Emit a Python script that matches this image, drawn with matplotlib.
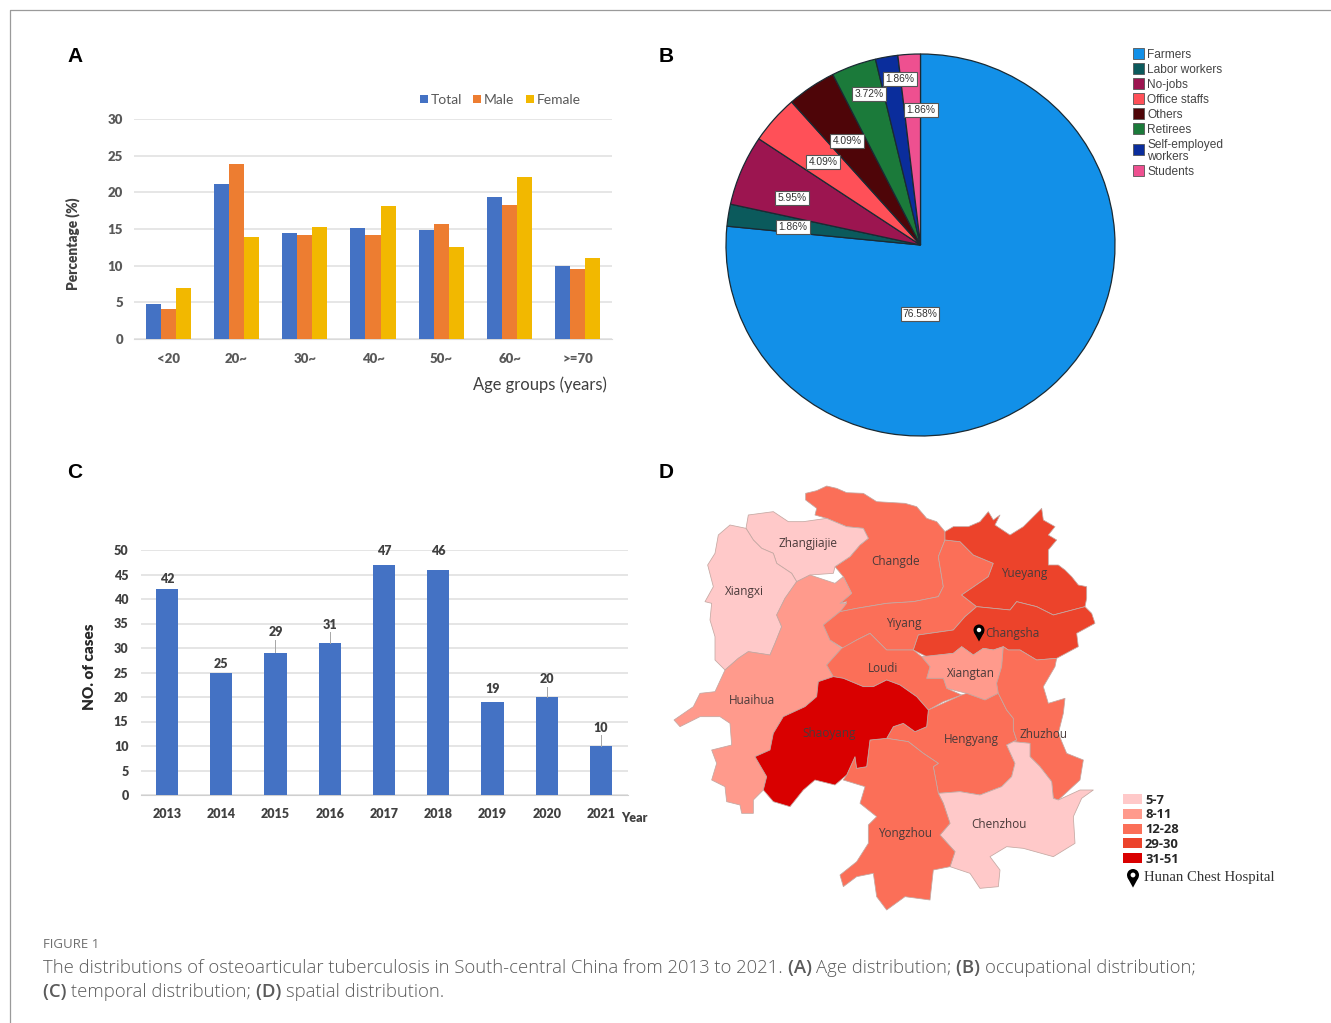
import matplotlib
matplotlib.use("Agg")
import matplotlib.pyplot as plt
from matplotlib.patches import Polygon, Rectangle, Circle

W, H = 1331, 1023

# panel A
age_groups = ["<20", "20~", "30~", "40~", "50~", "60~", ">=70"]
age_total = [4.8, 21.2, 14.5, 15.2, 14.9, 19.3, 10.0]
age_male = [4.1, 23.9, 14.2, 14.2, 15.7, 18.3, 9.6]
age_female = [6.9, 13.9, 15.3, 18.1, 12.5, 22.1, 11.1]

# panel B
jobs = ["Farmers", "Labor workers", "No-jobs", "Office staffs", "Others", "Retirees",
        "Self-employed\nworkers", "Students"]
job_share = [76.58, 1.86, 5.95, 4.09, 4.09, 3.72, 1.86, 1.86]
job_colors = ["#1290E8", "#0B5A5C", "#9C1550", "#FF5058", "#4E0508", "#1B7A3A", "#0A2D9C", "#EE5090"]

# panel C
years = ["2013", "2014", "2015", "2016", "2017", "2018", "2019", "2020", "2021"]
cases = [42, 25, 29, 31, 47, 46, 19, 20, 10]

# panel D, outlines (zoomed crop coords, 3x, origin at 660,470)
city_bins = ["5-7", "8-11", "12-28", "29-30", "31-51"]
bin_colors = ["#FFC9C9", "#FF9A8C", "#FB6F58", "#EC432B", "#D90000"]
changde = [(437,70),(470,62),(500,48),(530,55),(560,68),(610,70),(650,95),(700,98),(735,100),(770,110),(800,145),(830,155),(855,185),(855,210),(835,260),(850,350),(835,380),(760,395),(680,400),(590,415),(540,425),(560,395),(540,400),(575,370),(550,320),(525,290),(570,260),(600,225),(625,205),(610,175),(560,170),(500,145),(465,135),(470,115),(437,90)]
zhangjiajie = [(265,135),(340,125),(385,155),(430,155),(500,145),(560,170),(610,175),(625,205),(600,225),(570,260),(525,290),(520,310),(450,315),(410,335),(395,310),(350,280),(340,250),(305,235),(280,210),(258,175)]
xiangxi = [(258,175),(280,210),(305,235),(340,250),(350,280),(395,310),(410,335),(375,385),(350,435),(365,470),(345,520),(330,555),(265,545),(235,565),(195,600),(165,570),(165,500),(150,450),(155,400),(135,395),(160,350),(143,285),(165,250),(175,195),(210,165)]
huaihua = [(410,335),(450,315),(525,340),(550,320),(575,370),(540,400),(560,400),(540,425),(490,465),(510,510),(545,535),(500,585),(520,620),(475,635),(470,680),(435,710),(370,740),(340,790),(330,840),(285,860),(320,920),(310,960),(280,990),(280,1030),(245,1030),(240,1005),(200,995),(195,950),(155,930),(170,880),(155,840),(215,825),(210,760),(180,740),(120,740),(60,770),(42,750),(100,710),(120,670),(165,665),(195,600),(235,565),(265,545),(330,555),(345,520),(365,470),(350,435),(375,385)]
yiyang = [(855,210),(900,215),(940,255),(1000,280),(985,320),(905,375),(950,410),(915,440),(880,480),(775,495),(760,540),(680,540),(660,520),(630,490),(590,510),(550,535),(510,510),(490,465),(540,425),(590,415),(680,400),(760,395),(835,380),(850,350),(835,260)]
yueyang = [(855,185),(880,170),(925,170),(960,155),(985,125),(1000,150),(1020,135),(1005,165),(1050,195),(1090,170),(1145,115),(1150,150),(1185,170),(1165,195),(1190,210),(1165,240),(1165,285),(1195,285),(1215,300),(1235,320),(1255,345),(1280,350),(1280,385),(1275,410),(1180,435),(1130,410),(1070,395),(1050,420),(950,410),(905,375),(985,320),(1000,280),(940,255),(900,215),(855,210)]
changsha = [(950,410),(1050,420),(1070,395),(1130,410),(1180,435),(1275,410),(1295,430),(1305,460),(1250,490),(1255,530),(1190,565),(1130,570),(1080,540),(1045,540),(1030,530),(1000,540),(970,535),(940,555),(905,530),(880,550),(800,560),(760,540),(775,495),(880,480),(915,440)]
xiangtan = [(785,560),(880,550),(905,530),(940,555),(970,535),(1000,540),(1030,530),(1025,590),(1010,640),(1015,670),(975,690),(920,670),(860,655),(850,625),(800,625),(810,590)]
loudi = [(500,585),(545,535),(590,510),(630,490),(660,520),(680,540),(760,540),(785,560),(810,590),(800,625),(850,625),(860,655),(905,675),(850,695),(805,720),(770,680),(720,645),(680,630),(640,650),(610,650),(550,625),(520,620)]
shaoyang = [(475,635),(520,620),(550,625),(610,650),(640,650),(680,630),(720,645),(770,680),(805,720),(800,770),(765,785),(730,760),(700,770),(680,805),(630,810),(620,890),(590,895),(585,860),(560,915),(525,945),(465,930),(430,960),(390,1010),(340,995),(310,960),(320,920),(285,860),(330,840),(340,790),(370,740),(435,710),(470,680)]
hengyang = [(805,720),(905,675),(920,670),(975,690),(1015,670),(1040,720),(1060,745),(1060,780),(1070,810),(1040,825),(1065,880),(1055,920),(1025,950),(960,975),(900,965),(835,970),(820,890),(835,880),(790,850),(745,815),(680,805),(700,770),(730,760),(765,785),(800,770)]
zhuzhou = [(1030,530),(1045,540),(1080,540),(1130,570),(1190,565),(1185,590),(1150,650),(1165,700),(1215,685),(1210,730),(1195,790),(1220,850),(1270,870),(1260,930),(1195,990),(1180,985),(1175,935),(1140,890),(1110,860),(1110,820),(1060,815),(1070,810),(1060,780),(1060,745),(1040,720),(1015,670),(1010,640),(1025,590)]
chenzhou = [(1040,825),(1060,815),(1110,820),(1110,860),(1140,890),(1175,935),(1180,985),(1195,990),(1260,960),(1300,960),(1265,985),(1240,1040),(1245,1120),(1180,1160),(1090,1135),(1040,1130),(990,1160),(1020,1200),(1015,1250),(960,1255),(930,1210),(870,1190),(885,1145),(840,1095),(870,1060),(850,1000),(835,970),(900,965),(960,975),(1025,950),(1055,920),(1065,880)]
yongzhou = [(630,810),(680,805),(745,815),(790,850),(835,880),(820,890),(835,970),(850,1000),(870,1060),(840,1095),(885,1145),(870,1190),(820,1200),(810,1290),(735,1280),(680,1320),(650,1280),(640,1210),(590,1220),(550,1250),(540,1215),(590,1175),(625,1120),(625,1065),(650,1040),(600,1000),(615,950),(550,930),(560,915),(585,860),(590,895),(620,890)]

# outline, colour bin index
cities = [(changde, 2), (zhangjiajie, 0), (xiangxi, 0), (huaihua, 1), (yiyang, 2), (yueyang, 3),
          (changsha, 3), (xiangtan, 1), (loudi, 2), (hengyang, 2), (zhuzhou, 2), (chenzhou, 0),
          (yongzhou, 2), (shaoyang, 4)]
city_names = ["Zhangjiajie", "Changde", "Xiangxi", "Yueyang", "Yiyang", "Changsha", "Loudi", "Xiangtan",
              "Huaihua", "Shaoyang", "Hengyang", "Zhuzhou", "Yongzhou", "Chenzhou"]
city_xy = [(808,543), (896,561), (744,591), (1024,574), (904,623), (1012,634), (883,668), (971,674),
           (752,700), (829,734), (971,740), (1043,734), (905,833), (999,825)]


def px_axes(left, top, right, bottom):
    return fig.add_axes([left / W, 1 - bottom / H, (right - left) / W, (bottom - top) / H])


def pin(ax, x, y, s):
    # map marker, s = head radius in px
    ax.add_patch(Circle((x, y), s, color="black", lw=0, zorder=6))
    ax.add_patch(Polygon([(x - s * 0.93, y + s * 0.4), (x + s * 0.93, y + s * 0.4), (x, y + s * 2.1)],
                         color="black", lw=0, zorder=6))
    ax.add_patch(Circle((x, y), s * 0.4, color="white", lw=0, zorder=7))


def runs(ax, x, y, parts, size, color):
    # regular and bold pieces one after the other on the same line
    rend = fig.canvas.get_renderer()
    for s, weight in parts:
        t = ax.text(x, y, s, fontsize=size, family="Open Sans", fontweight=weight, color=color, va="center")
        # overlay axes is 1 data unit per pixel
        x = t.get_window_extent(rend).x1


fig = plt.figure(figsize=(W / 100, H / 100), dpi=100)
bar_font = "Lato"
gray = "#595959"

# A
ax = px_axes(134, 119, 612, 339)
xs = list(range(len(age_groups)))
bw = 0.22
ax.bar([x - bw for x in xs], age_total, bw, color="#4472C4", label="Total", zorder=3)
ax.bar(xs, age_male, bw, color="#ED7D31", label="Male", zorder=3)
ax.bar([x + bw for x in xs], age_female, bw, color="#F2B800", label="Female", zorder=3)
ax.set_xlim(-0.5, 6.5)
ax.set_ylim(0, 30)
ax.set_xticks(xs, age_groups)
ax.set_yticks(range(0, 31, 5))
ax.grid(axis="y", color="#E4E4E4", lw=1.3, zorder=0)
ax.tick_params(axis="x", length=0, labelsize=9.5, labelcolor=gray, pad=10)
ax.tick_params(axis="y", length=0, labelsize=9.5, labelcolor=gray, pad=8)
for t in ax.get_xticklabels() + ax.get_yticklabels():
    t.set_fontfamily(bar_font)
    t.set_fontweight("heavy")
for s in ["top", "left", "right"]:
    ax.spines[s].set_visible(False)
ax.spines["bottom"].set_color("#DADADA")

# C
ax = px_axes(141, 550, 628, 795)
ax.bar(years, cases, 0.41, color="#4472C4", zorder=3)
ax.set_xlim(-0.48, 8.5)
ax.set_ylim(0, 50)
ax.set_yticks(range(0, 51, 5))
ax.grid(axis="y", color="#DEDEDE", lw=1.1, zorder=0)
ax.tick_params(length=0, labelsize=9, labelcolor="#404040", pad=9)
for t in ax.get_xticklabels() + ax.get_yticklabels():
    t.set_fontfamily(bar_font)
    t.set_fontweight("heavy")
for s in ["top", "left", "right"]:
    ax.spines[s].set_visible(False)
ax.spines["bottom"].set_color("#CFCFCF")
# value labels, some sit higher with a small leader line
lifted = {"2015": 3, "2016": 2.5, "2019": 1.4, "2020": 2.4, "2021": 2.5, "2014": 0.6, "2013": 0.9, "2018": 0.7}
for y, c in zip(years, cases):
    up = lifted.get(y, 0.4)
    if y == "2017":
        up = 1.6
    if y == "2018":
        up = 2.6
    if up > 2 and y != "2018":
        ax.plot([y, y], [c + 0.1, c + up - 0.3], color="#A6A6A6", lw=0.7, zorder=4)
    ax.text(y, c + up, str(c), ha="center", va="bottom", fontsize=9, fontweight="heavy",
            family=bar_font, color="#404040", clip_on=False)

# B
ax = px_axes(726, 54, 1115, 436)
ax.pie(job_share, colors=job_colors, startangle=90, counterclock=False, radius=1,
       wedgeprops={"edgecolor": "#1A2A33", "linewidth": 0.9})
ax.set_aspect("auto")
ax.set_xlim(-1, 1)
ax.set_ylim(-1, 1)

# everything else goes on a pixel overlay
ov = fig.add_axes([0, 0, 1, 1], zorder=-1)
ov.set_xlim(0, W)
ov.set_ylim(H, 0)
ov.axis("off")
top = fig.add_axes([0, 0, 1, 1], zorder=5)
top.set_xlim(0, W)
top.set_ylim(H, 0)
top.axis("off")
top.patch.set_alpha(0)

# page frame
top.plot([10, 10, W], [H, 10, 10], color="#9A9A9A", lw=0.9)

for letter, x, y in [("A", 75, 56), ("B", 666, 56), ("C", 75, 473), ("D", 666, 473)]:
    top.text(x, y, letter, fontsize=15, fontweight="bold", family="Liberation Sans", ha="center", va="center")

# A annotations
for name, col, x in [("Total", "#4472C4", 420), ("Male", "#ED7D31", 473), ("Female", "#F2B800", 526)]:
    top.add_patch(Rectangle((x, 95), 8, 8, color=col, lw=0))
    top.text(x + 11, 99.5, name, fontsize=10, family=bar_font, color=gray, va="center")
top.text(73, 244, "Percentage (%)", rotation=90, fontsize=9.8, fontweight="heavy", family=bar_font,
         color="#404040", ha="center", va="center")
top.text(607, 385, "Age groups (years)", fontsize=11.9, family=bar_font, color="#404040", ha="right", va="center")

# C annotations
top.text(89, 667, "NO. of cases", rotation=90, fontsize=11, fontweight="heavy", family=bar_font,
         color="#262626", ha="center", va="center")
top.text(634, 818, "Year", fontsize=9, fontweight="heavy", family=bar_font, color="#404040", ha="center", va="center")

# B annotations
pie_labels = ["76.58%", "1.86%", "5.95%", "4.09%", "4.09%", "3.72%", "1.86%", "1.86%"]
label_xy = [(920,314), (793,227), (792,198), (823,162), (847,141), (869,94), (900,79), (921,110)]
for lab, (x, y) in zip(pie_labels, label_xy):
    top.text(x, y, lab, fontsize=7.4, family="Liberation Sans", color="#333333", ha="center", va="center",
             bbox={"boxstyle": "square,pad=0.2", "fc": "white", "ec": "#555555", "lw": 0.8})
legend_y = [55, 70, 85, 100, 115, 130, 151, 172]
for name, col, y in zip(jobs, job_colors, legend_y):
    top.add_patch(Rectangle((1133, y - 7), 11, 11, fc=col, ec="#555555", lw=0.6))
    top.text(1147, y, name, fontsize=8.6, family="Liberation Sans", color="#444444", va="center", linespacing=0.9)

# D
for outline, b in cities:
    pts = [(660 + x / 3, 470 + y / 3) for x, y in outline]
    ov.add_patch(Polygon(pts, closed=True, fc=bin_colors[b], ec="#C4A8A2", lw=0.55, joinstyle="round"))
for name, (x, y) in zip(city_names, city_xy):
    top.text(x, y, name, fontsize=8.5, family="Open Sans", color="#4A3A3A", ha="center", va="center")
pin(top, 979, 630, 5.5)
for i, (name, col) in enumerate(zip(city_bins, bin_colors)):
    y = 800 + i * 14.8
    top.add_patch(Rectangle((1123, y - 6), 19, 10, color=col, lw=0))
    top.text(1145, y, name, fontsize=9.4, fontweight="bold", family="Open Sans", color="#262626", va="center")
pin(top, 1133, 875, 6)
top.text(1144, 878, "Hunan Chest Hospital", fontsize=10.6, family="Liberation Serif", color="#333333", va="center")

# caption
top.text(43, 944, "FIGURE 1", fontsize=9.5, family="Open Sans", color="#6E6E6E", va="center")
cap = "#5A5A5A"
runs(top, 43, 968, [
    ("The distributions of osteoarticular tuberculosis in South-central China from 2013 to 2021. ", "light"),
    ("(A) ", "semibold"), ("Age distribution; ", "light"), ("(B) ", "semibold"),
    ("occupational distribution;", "light")], 13.3, cap)
runs(top, 43, 992, [("(C) ", "semibold"), ("temporal distribution; ", "light"), ("(D) ", "semibold"),
                    ("spatial distribution.", "light")], 13.3, cap)

fig.savefig("out.png", dpi=100)
